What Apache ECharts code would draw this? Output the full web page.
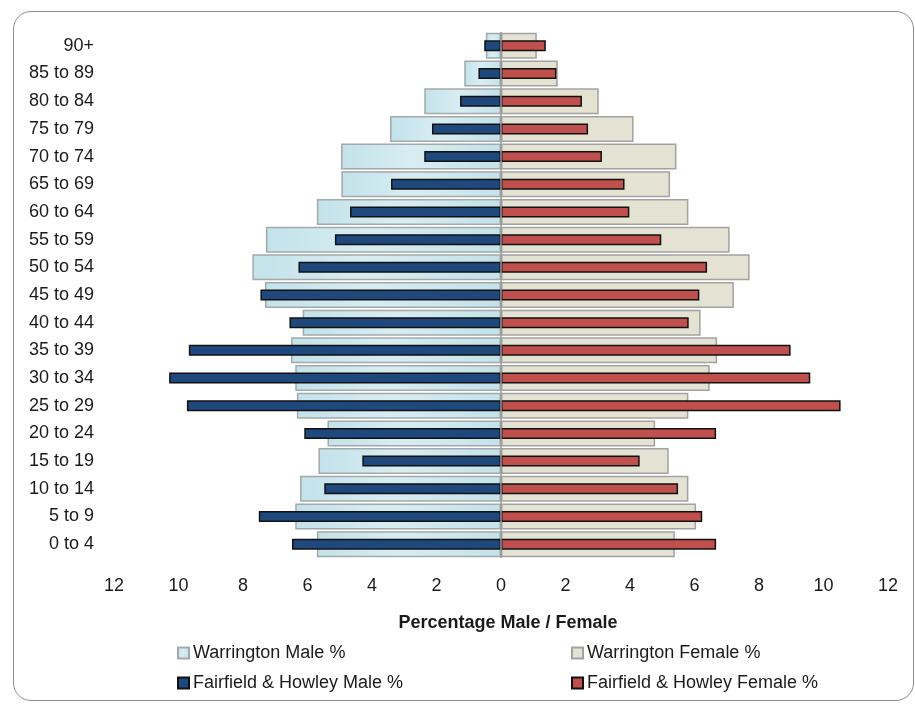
<!DOCTYPE html>
<html>
<head>
<meta charset="utf-8">
<script src="https://cdn.jsdelivr.net/npm/echarts@6/dist/echarts.min.js"></script>
<style>
  html, body { margin: 0; padding: 0; background: #fff; }
  #frame { position: absolute; left: 13px; top: 11px; width: 901px; height: 690px;
           border: 1.5px solid #8c8c8c; border-radius: 18px; box-sizing: border-box; }
  #chart { position: absolute; left: 0; top: 0; width: 915px; height: 707px; }
</style>
</head>
<body>
<div id="frame"></div>
<div id="chart"></div>
<script>
// Categories bottom to top
const categories = ['0 to 4','5 to 9','10 to 14','15 to 19','20 to 24','25 to 29','30 to 34','35 to 39','40 to 44','45 to 49','50 to 54','55 to 59','60 to 64','65 to 69','70 to 74','75 to 79','80 to 84','85 to 89','90+'];
const warringtonMale   = [5.71, 6.38, 6.23, 5.66, 5.38, 6.33, 6.38, 6.51, 6.15, 7.32, 7.71, 7.29, 5.71, 4.95, 4.96, 3.44, 2.38, 1.14, 0.47];
const warringtonFemale = [5.39, 6.05, 5.81, 5.20, 4.78, 5.81, 6.47, 6.70, 6.19, 7.22, 7.71, 7.09, 5.81, 5.24, 5.44, 4.11, 3.03, 1.76, 1.11];
const fhMale           = [6.48, 7.51, 5.48, 4.30, 6.10, 9.74, 10.29, 9.68, 6.56, 7.46, 6.28, 5.15, 4.68, 3.41, 2.38, 2.14, 1.27, 0.70, 0.52];
const fhFemale         = [6.67, 6.24, 5.49, 4.30, 6.67, 10.53, 9.59, 8.98, 5.82, 6.15, 6.39, 4.97, 3.98, 3.83, 3.13, 2.70, 2.51, 1.72, 1.39];
const seriesNames = ['Warrington Male %', 'Warrington Female %', 'Fairfield & Howley Male %', 'Fairfield & Howley Female %'];

const FONT = 'Liberation Sans';
const chart = echarts.init(document.getElementById('chart'));

const blueGrad = new echarts.graphic.LinearGradient(0, 0, 1, 0, [
  { offset: 0, color: '#c3e2ea' },
  { offset: 0.45, color: '#d8edf2' },
  { offset: 1, color: '#c3e2ea' }
]);

function legendAt(name, left, top) {
  return {
    data: [name], left: left, top: top, orient: 'horizontal',
    itemWidth: 11, itemHeight: 11, itemGap: 0, icon: 'rect',
    selectedMode: false,
    textStyle: { fontFamily: FONT, fontSize: 18, color: '#1a1a1a', padding: [0, 0, 0, -1] }
  };
}

const option = {
  animation: false,
  backgroundColor: 'transparent',
  grid: { left: 114, right: 27, top: 32, bottom: 149, containLabel: false },
  legend: [
    legendAt(seriesNames[0], 172, 639),
    legendAt(seriesNames[1], 566, 639),
    legendAt(seriesNames[2], 172, 669),
    legendAt(seriesNames[3], 566, 669)
  ],
  xAxis: {
    type: 'value', min: -12, max: 12, interval: 2,
    name: 'Percentage Male / Female', nameLocation: 'middle', nameGap: 56,
    nameTextStyle: { fontFamily: FONT, fontSize: 18, fontWeight: 'bold', color: '#1a1a1a', padding: [0, 0, 0, 14] },
    axisLine: { show: false }, axisTick: { show: false }, splitLine: { show: false },
    axisLabel: { fontFamily: FONT, fontSize: 18, color: '#1a1a1a', margin: 19,
      formatter: v => String(Math.abs(v)) }
  },
  yAxis: [
    { type: 'category', data: categories, axisLine: { show: false }, axisTick: { show: false },
      axisLabel: { fontFamily: FONT, fontSize: 18, color: '#1a1a1a', margin: 20 } },
    { type: 'category', data: categories, show: false }
  ],
  series: [
    { name: seriesNames[0], type: 'bar', stack: 'w', yAxisIndex: 0, barWidth: 26,
      data: warringtonMale.map(v => -v),
      itemStyle: { color: blueGrad, borderColor: '#a3a9ab', borderWidth: 1.5 },
      markLine: { silent: true, symbol: 'none', label: { show: false },
        lineStyle: { color: '#9a9a9a', width: 1.5, type: 'solid' }, data: [{ xAxis: 0 }] } },
    { name: seriesNames[1], type: 'bar', stack: 'w', yAxisIndex: 0, barWidth: 26,
      data: warringtonFemale,
      itemStyle: { color: '#e4e2d3', borderColor: '#a2a2a0', borderWidth: 1.5 } },
    { name: seriesNames[2], type: 'bar', stack: 'f', yAxisIndex: 1, barWidth: 11,
      data: fhMale.map(v => -v),
      itemStyle: { color: '#1f497d', borderColor: '#111', borderWidth: 1.5 } },
    { name: seriesNames[3], type: 'bar', stack: 'f', yAxisIndex: 1, barWidth: 11,
      data: fhFemale,
      itemStyle: { color: '#c0504d', borderColor: '#111', borderWidth: 1.5 } }
  ]
};
chart.setOption(option);
</script>
</body>
</html>
